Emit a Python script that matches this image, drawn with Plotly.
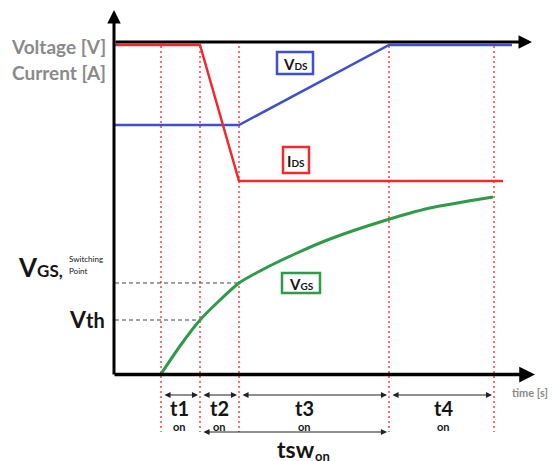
import plotly.graph_objects as go

# ---- data (time units ~ arbitrary, level units ~ arbitrary) ----
t_marks = [46, 85, 124, 274, 379]          # t0 .. t4 switching instants
ids_t = [0, 85, 124, 388]
ids_v = [329, 329, 193, 193]
vds_t = [0, 124, 274, 397]
vds_v = [249, 249, 329, 329]
vgs_t = [46, 65, 85, 105, 124, 145, 182, 215, 265, 315, 378]
vgs_v = [0, 28, 54, 74, 91, 103, 121, 135, 152, 166, 177]
v_th = 54
v_sw = 91
interval_labels = ["t1", "t2", "t3", "t4"]

RED = "#ee2a2f"
BLUE = "#3f4fd3"
GREEN = "#2f9a48"
GREY = "#8a8a8a"
DARK = "#151515"
FONT = "Lato"

fig = go.Figure()

# red dashed verticals
for t in t_marks:
    fig.add_trace(go.Scatter(x=[t, t], y=[328, -58], mode="lines",
                             line=dict(color="#ff4040", width=1.5, dash="2px,3px"),
                             hoverinfo="skip", showlegend=False))
# black dashed horizontals
fig.add_trace(go.Scatter(x=[0, t_marks[1]], y=[v_th, v_th], mode="lines",
                         line=dict(color="#444", width=1.2, dash="4px,3px"), showlegend=False))
fig.add_trace(go.Scatter(x=[0, t_marks[2]], y=[v_sw, v_sw], mode="lines",
                         line=dict(color="#444", width=1.2, dash="4px,3px"), showlegend=False))

fig.add_trace(go.Scatter(x=vds_t, y=vds_v, mode="lines", line=dict(color=BLUE, width=2.5), showlegend=False))
fig.add_trace(go.Scatter(x=ids_t, y=ids_v, mode="lines", line=dict(color=RED, width=2.5), showlegend=False))
fig.add_trace(go.Scatter(x=vgs_t, y=vgs_v, mode="lines", line=dict(color=GREEN, width=3, shape="spline", smoothing=0.6),
                         showlegend=False))

ann = []
shapes = []

def axis_arrow(x0, y0, x1, y1, w=3):
    ann.append(dict(x=x1, y=y1, ax=x0, ay=y0, xref="x", yref="y", axref="x", ayref="y",
                    showarrow=True, arrowhead=2, arrowsize=0.9, arrowwidth=w, arrowcolor="black", text=""))

axis_arrow(-1, -2, -1, 364)          # y axis
axis_arrow(-2, -0.5, 420, -0.5, 3.5) # x axis
axis_arrow(-1, 332, 417, 332)        # top reference line

# interval arrows
ys = -21
for a, b in zip(t_marks[:-1], t_marks[1:]):
    ann.append(dict(x=b - 2, y=ys, ax=a + 2, ay=ys, xref="x", yref="y", axref="x", ayref="y",
                    showarrow=True, arrowhead=2, arrowside="end+start", arrowsize=1.1,
                    arrowwidth=1.1, arrowcolor="#222", text=""))
ann.append(dict(x=t_marks[3] - 2, y=-58, ax=t_marks[1] + 2, ay=-58, xref="x", yref="y", axref="x", ayref="y",
                showarrow=True, arrowhead=2, arrowside="end+start", arrowsize=1.1,
                arrowwidth=1.1, arrowcolor="#222", text=""))

def txt(x, y, s, size, color=DARK, xanchor="center", bold=True):
    ann.append(dict(x=x, y=y, xref="x", yref="y", text=s, showarrow=False, xanchor=xanchor, yanchor="middle",
                    font=dict(family=FONT, size=size, color=color, weight="bold" if bold else "normal")))

# interval labels
label_x = [64, 104, 189, 328]
for lx, lab in zip(label_x, interval_labels):
    txt(lx, -34, lab, 20)
    txt(lx, -52, "on", 11)
txt(181, -75, "tsw", 23)
txt(198, -82, "on", 13, xanchor="left")
txt(415, -18, "time [s]", 11, color=GREY)

# left labels
txt(-7, 328, "Voltage [V]", 19, color=GREY, xanchor="right")
txt(-7, 302, "Current [A]", 19, color=GREY, xanchor="right")
txt(-50, 107, "V<span style='font-size:17px'>GS,</span>", 26, xanchor="right")
txt(-48, 115, "Switching", 8, xanchor="left", bold=False)
txt(-48, 103, "Point", 8, xanchor="left", bold=False)
txt(-8, 55, "V<span style='font-size:20px'>th</span>", 23, xanchor="right")

# labelled boxes
boxes = [((162, 198, 300, 322), BLUE, "V<span style='font-size:10px'>DS</span>", (180, 310)),
         ((168, 194, 201, 227), RED, "I<span style='font-size:10px'>DS</span>", (181, 213)),
         ((167, 205, 81, 101), GREEN, "V<span style='font-size:10px'>GS</span>", (186, 90))]
for (x0, x1, y0, y1), col, s, (cx, cy) in boxes:
    shapes.append(dict(type="rect", xref="x", yref="y", x0=x0, x1=x1, y0=y0, y1=y1,
                       line=dict(color=col, width=2.5), fillcolor="white", layer="above"))
    txt(cx, cy, s, 15)

# page body adds an 8px offset, compensate in the ranges
fig.update_layout(
    width=557, height=461, margin=dict(l=0, r=0, t=0, b=0),
    paper_bgcolor="white", plot_bgcolor="white",
    xaxis=dict(range=[-107, 450], visible=False, fixedrange=True),
    yaxis=dict(range=[-95, 366], visible=False, fixedrange=True),
    annotations=ann, shapes=shapes, showlegend=False,
)
fig.write_html("out.html")
